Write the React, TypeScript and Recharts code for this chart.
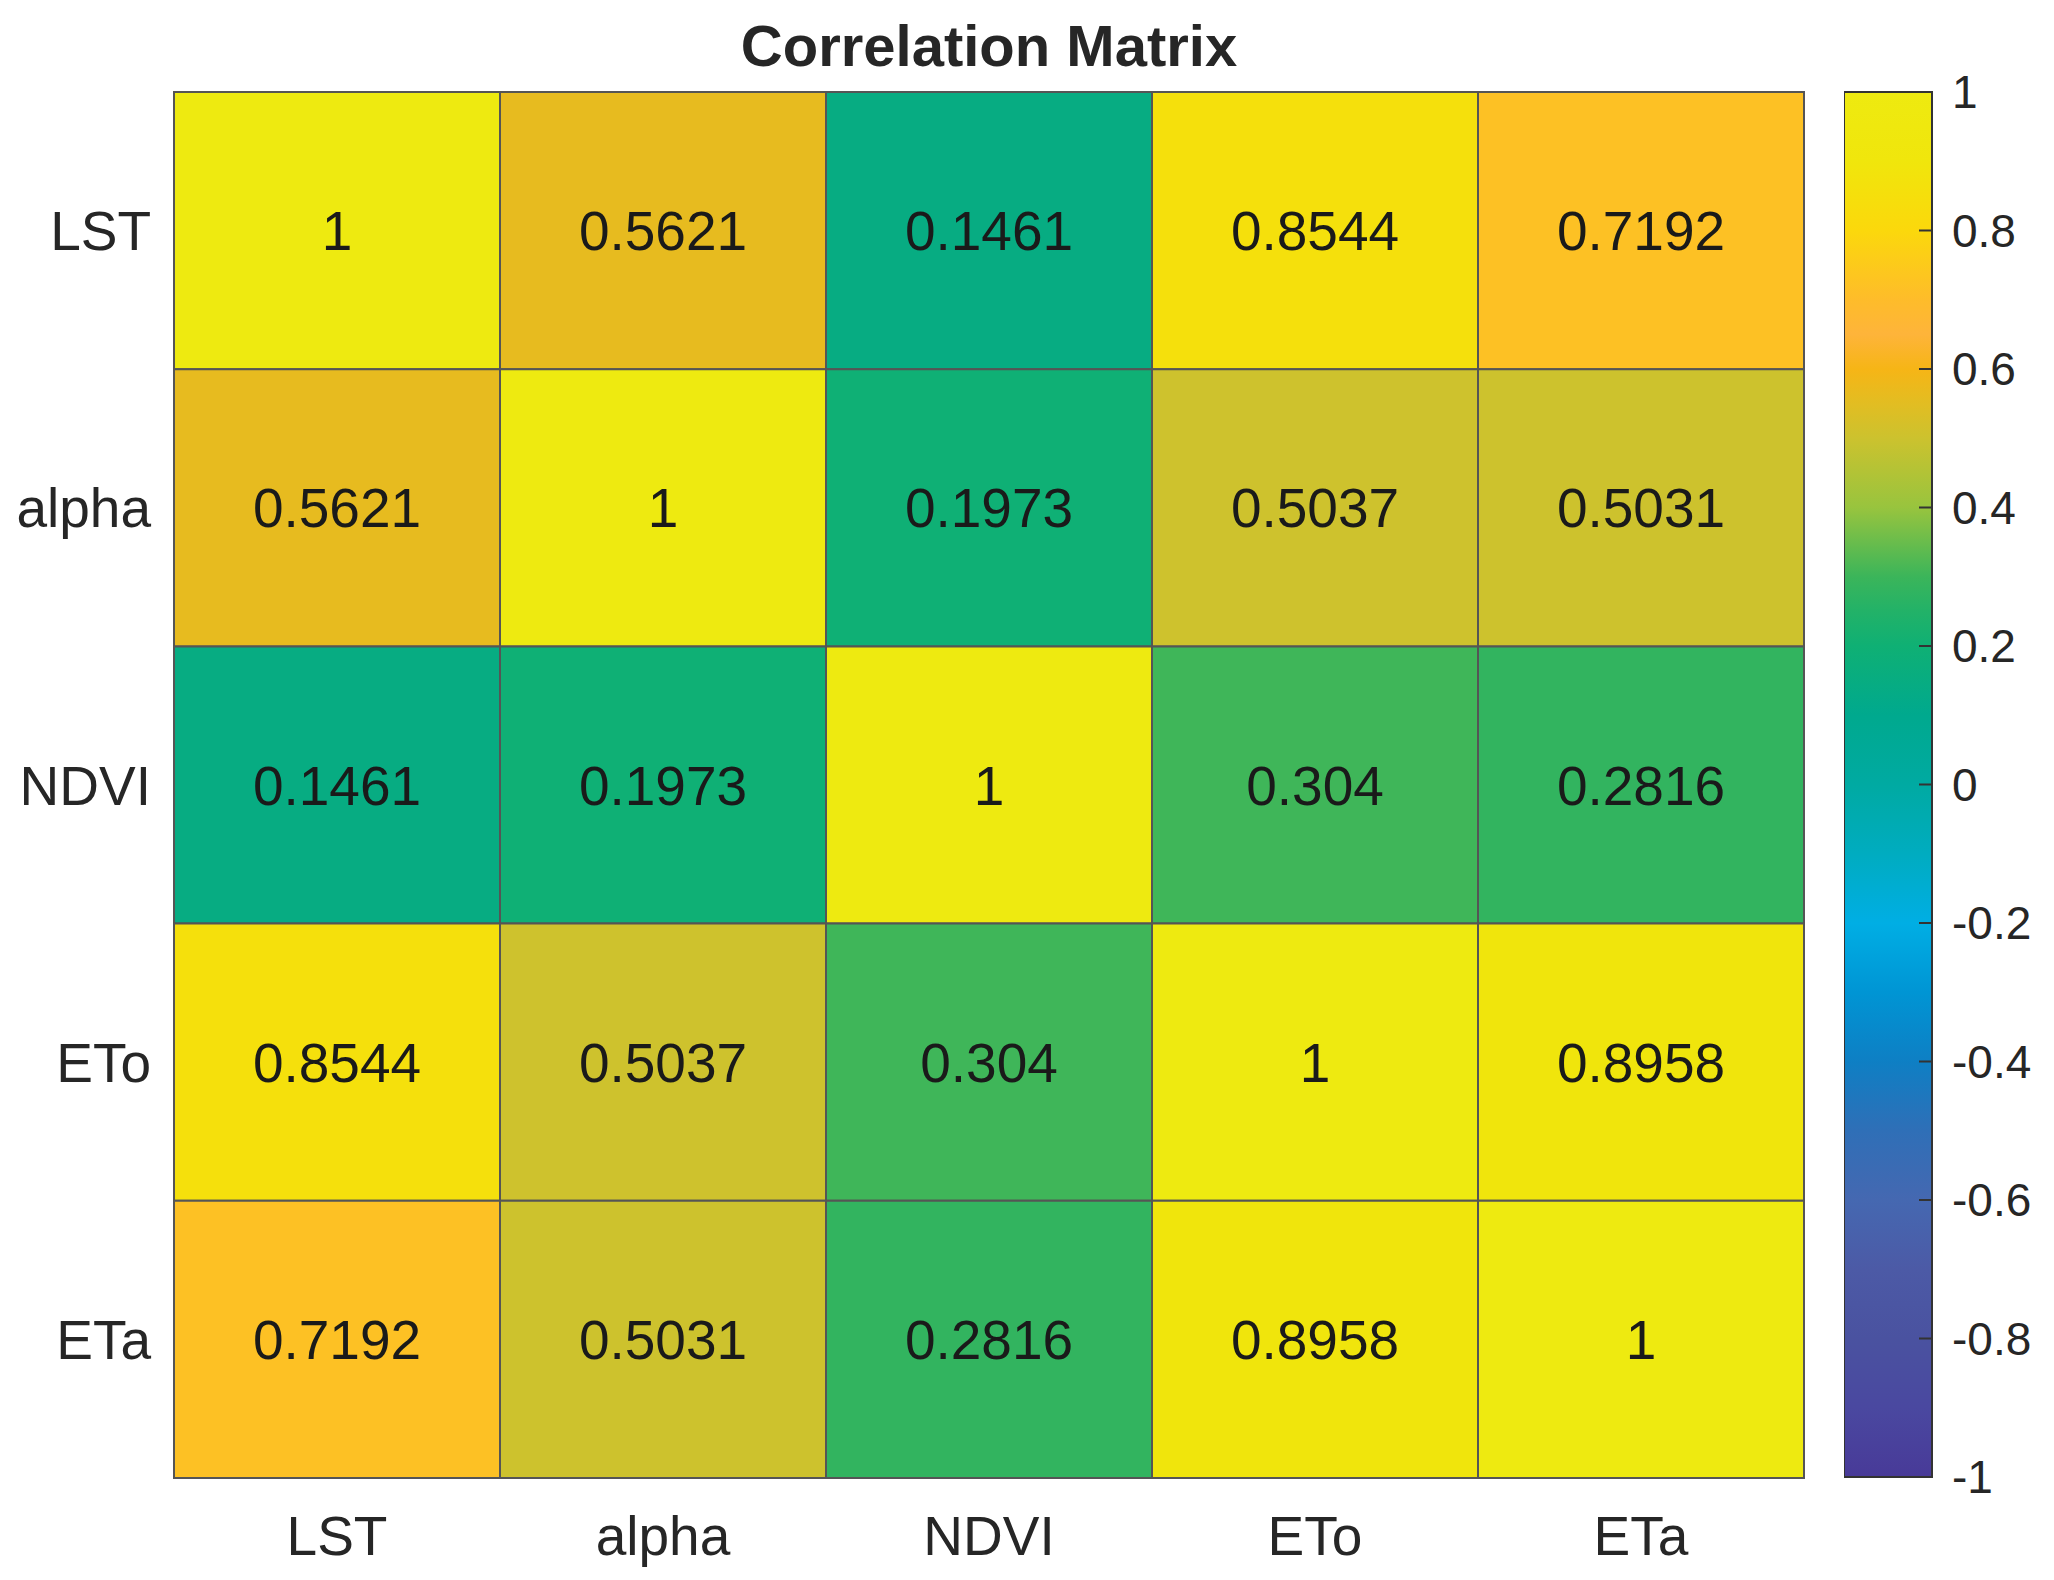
import React from 'react';
import {
  ScatterChart, Scatter, XAxis, YAxis, ReferenceArea, ComposedChart, Line,
} from 'recharts';

// variables (rows top to bottom, columns left to right)
const labels = ['LST', 'alpha', 'NDVI', 'ETo', 'ETa'];

const rowLST = [1, 0.5621, 0.1461, 0.8544, 0.7192];
const rowAlpha = [0.5621, 1, 0.1973, 0.5037, 0.5031];
const rowNDVI = [0.1461, 0.1973, 1, 0.304, 0.2816];
const rowETo = [0.8544, 0.5037, 0.304, 1, 0.8958];
const rowETa = [0.7192, 0.5031, 0.2816, 0.8958, 1];
const rows = [rowLST, rowAlpha, rowNDVI, rowETo, rowETa];

const colorbarTicks = [-1, -0.8, -0.6, -0.4, -0.2, 0, 0.2, 0.4, 0.6, 0.8, 1];

// colour map sampled from the colour bar
const stopValues = [-1, -0.9, -0.8, -0.7, -0.6, -0.5, -0.4, -0.3, -0.2, -0.1, 0, 0.1, 0.2, 0.25, 0.3, 0.4, 0.5, 0.55, 0.6, 0.65, 0.7, 0.8, 0.9, 1];
const stopColors = ['#483a98', '#4a48a0', '#4a52a0', '#4c5aa6', '#4568b1', '#2f6fb7', '#0e7fc4', '#0095d4', '#00aee4', '#00acc0', '#00aaa2', '#00a98e', '#0fb074', '#22b268', '#3bb55a', '#98c43e', '#ccc22e', '#e2bd22', '#f6b516', '#feb43a', '#febc2a', '#fbd80c', '#f0e60c', '#eeea10'];

const FONT = '"Liberation Sans", Arial, Helvetica, sans-serif';

const hexToRgb = (h: string) => [1, 3, 5].map((i) => parseInt(h.slice(i, i + 2), 16));

const colorFor = (v: number) => {
  for (let i = 0; i < stopValues.length - 1; i++) {
    if (v <= stopValues[i + 1]) {
      const t = (v - stopValues[i]) / (stopValues[i + 1] - stopValues[i]);
      const a = hexToRgb(stopColors[i]);
      const b = hexToRgb(stopColors[i + 1]);
      const c = a.map((x, k) => Math.round(x + (b[k] - x) * t));
      return `rgb(${c[0]},${c[1]},${c[2]})`;
    }
  }
  return stopColors[stopColors.length - 1];
};

const cells = rows.flatMap((row, i) =>
  row.map((v, j) => ({ x: j + 0.5, y: i + 0.5, col: j, row: i, v })),
);

const centers = [0.5, 1.5, 2.5, 3.5, 4.5];

const ValueText = (props: any) => {
  const { cx, cy, payload } = props;
  return (
    <text x={cx} y={cy} dy="0.355em" textAnchor="middle" fontSize={55} fontFamily={FONT} fill="#1a1a1a">
      {String(payload.v)}
    </text>
  );
};

const ColorbarTick = (props: any) => {
  const { x, y, payload } = props;
  return (
    <g>
      <line x1={x - 13} x2={x} y1={y} y2={y} stroke="#333" strokeWidth={2} />
      <text x={x + 20} y={y} dy="0.355em" textAnchor="start" fontSize={46} fontFamily={FONT} fill="#262626">
        {String(payload.value)}
      </text>
    </g>
  );
};

// gradient stops must go top (value 1) to bottom (value -1)
const gradientStops = stopValues
  .map((v, i) => ({ offset: ((1 - v) / 2) * 100, color: stopColors[i] }))
  .reverse();

export default function App() {
  return (
    <div style={{ position: 'absolute', left: 0, top: 0, width: 2054, height: 1580, background: '#fff' }}>
      <div
        style={{
          position: 'absolute', left: 689, width: 600, top: 12, textAlign: 'center',
          fontFamily: FONT, fontWeight: 'bold', fontSize: 58, lineHeight: '68px', color: '#262626',
        }}
      >
        Correlation Matrix
      </div>

      <div style={{ position: 'absolute', left: 0, top: 0 }}>
        <ScatterChart width={1840} height={1580} margin={{ top: 92, right: 36, bottom: 0, left: 0 }}>
          <XAxis
            type="number"
            dataKey="x"
            domain={[0, 5]}
            ticks={centers}
            interval={0}
            tickFormatter={(v: number) => labels[Math.floor(v)]}
            axisLine={false}
            tickLine={false}
            tickSize={0}
            tickMargin={38}
            height={102}
            tick={{ fill: '#262626', fontSize: 55, fontFamily: FONT }}
          />
          <YAxis
            type="number"
            dataKey="y"
            domain={[0, 5]}
            reversed
            ticks={centers}
            interval={0}
            tickFormatter={(v: number) => labels[Math.floor(v)]}
            axisLine={false}
            tickLine={false}
            tickSize={0}
            tickMargin={23}
            width={174}
            tick={{ fill: '#262626', fontSize: 55, fontFamily: FONT }}
          />
          {cells.map((c) => (
            <ReferenceArea
              key={`${c.row}-${c.col}`}
              x1={c.col}
              x2={c.col + 1}
              y1={c.row}
              y2={c.row + 1}
              fill={colorFor(c.v)}
              fillOpacity={1}
              stroke="#555"
              strokeWidth={2}
              ifOverflow="visible"
            />
          ))}
          <Scatter data={cells} shape={ValueText} isAnimationActive={false} />
        </ScatterChart>
      </div>

      <div style={{ position: 'absolute', left: 1844, top: 0 }}>
        <ComposedChart
          width={210}
          height={1580}
          data={[{ v: -1 }, { v: 1 }]}
          margin={{ top: 92, right: 0, bottom: 103, left: 0 }}
        >
          <defs>
            <linearGradient id="cbar" x1="0" y1="0" x2="0" y2="1">
              {gradientStops.map((s) => (
                <stop key={s.offset} offset={`${s.offset}%`} stopColor={s.color} />
              ))}
            </linearGradient>
          </defs>
          <XAxis hide />
          <YAxis
            type="number"
            orientation="right"
            domain={[-1, 1]}
            ticks={colorbarTicks}
            interval={0}
            axisLine={false}
            tickLine={false}
            tickSize={0}
            tickMargin={0}
            width={122}
            tick={<ColorbarTick />}
          />
          <ReferenceArea y1={-1} y2={1} fill="url(#cbar)" fillOpacity={1} stroke="#333" strokeWidth={2} ifOverflow="visible" />
          <Line dataKey="v" stroke="none" dot={false} isAnimationActive={false} />
        </ComposedChart>
      </div>
    </div>
  );
}
